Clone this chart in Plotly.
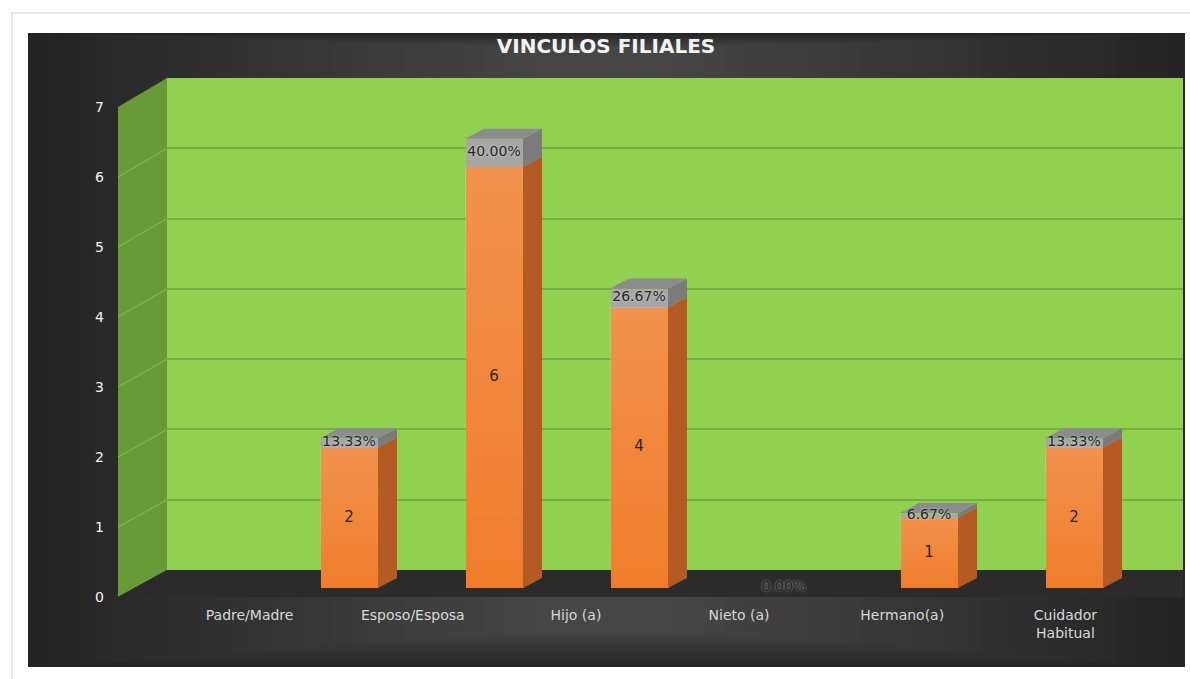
import plotly.graph_objects as go

# ---------------- data ----------------
TITLE = "VINCULOS FILIALES"
CATEGORIES = ["Padre/Madre", "Esposo/Esposa", "Hijo (a)", "Nieto (a)", "Hermano(a)", "Cuidador Habitual"]
CATEGORY_TICK_TEXT = ["Padre/Madre", "Esposo/Esposa", "Hijo (a)", "Nieto (a)", "Hermano(a)", "Cuidador<br>Habitual"]
COUNTS = [2, 6, 4, 0, 1, 2]
SHARES = [0.1333, 0.4000, 0.2667, 0.0000, 0.0667, 0.1333]
Y_TICKS = [0, 1, 2, 3, 4, 5, 6, 7]

# ---------------- geometry / style ----------------
W, H = 1190, 679
def fx(p):
    return p / W
def fy(p):
    return 1 - p / H

Y_MAX = 7
BACK = dict(x0=167, x1=1183, y0=570, y1=78)          # back wall in px
FRONT_TICKS = dict(y0=597, y1=107, x=111)            # front edge of value axis
BARS = dict(x0=276.5, x1=1146.5, y0=588, unit=70.2)  # bar plane
CATS = dict(x0=168, x1=1147, y=603)
SIDE_X_FRONT, SIDE_X_BACK = 118, 167

BAR_W = 0.4
DX = 19 / 145.0
DY = 10 / BARS["unit"]

ORANGE = "#f07d2c"
ORANGE_SIDE = "#b65a24"
GREY = "#a6a6a6"
GREY_SIDE = "#7b7b7b"
GREY_TOP = "#8c8c8c"
GREEN = "#92d050"
GREEN_SIDE = "#689a36"
GRID_GREEN = "#78ad40"

idx = list(range(len(CATEGORIES)))

fig = go.Figure()

# front faces (stacked bars)
fig.add_trace(go.Bar(x=idx, y=COUNTS, width=BAR_W, marker=dict(color=ORANGE, line=dict(width=0)),
                     xaxis="x2", yaxis="y2", hoverinfo="skip", showlegend=False))
fig.add_trace(go.Bar(x=idx, y=SHARES, width=BAR_W, marker=dict(color=GREY, line=dict(width=0)),
                     xaxis="x2", yaxis="y2", hoverinfo="skip", showlegend=False))

# soft highlight on each orange front face (lighter towards the top)
for i, c in zip(idx, COUNTS):
    if c <= 0:
        continue
    xl, xr = i - BAR_W / 2, i + BAR_W / 2
    fig.add_trace(go.Scatter(x=[xl, xr, xr, xl, xl], y=[0, 0, c, c, 0], mode="lines", fill="toself",
                             line=dict(width=0),
                             fillgradient=dict(type="vertical",
                                               colorscale=[[0, "rgba(255,255,255,0)"],
                                                           [1, "rgba(255,255,255,0.16)"]]),
                             xaxis="x2", yaxis="y2", hoverinfo="skip", showlegend=False))

# 3D side / top faces built from the same values
os_x, os_y, gs_x, gs_y, tp_x, tp_y = [], [], [], [], [], []
for i, c, s in zip(idx, COUNTS, SHARES):
    t = c + s
    if t <= 0:
        continue
    xl, xr = i - BAR_W / 2, i + BAR_W / 2
    os_x += [xr, xr + DX, xr + DX, xr, xr, None]
    os_y += [0, DY, c + DY, c, 0, None]
    gs_x += [xr, xr + DX, xr + DX, xr, xr, None]
    gs_y += [c, c + DY, t + DY, t, c, None]
    tp_x += [xl, xl + DX, xr + DX, xr, xl, None]
    tp_y += [t, t + DY, t + DY, t, t, None]

for xs, ys, col in [(os_x, os_y, ORANGE_SIDE), (gs_x, gs_y, GREY_SIDE), (tp_x, tp_y, GREY_TOP)]:
    fig.add_trace(go.Scatter(x=xs, y=ys, mode="lines", fill="toself", fillcolor=col,
                             line=dict(width=0, color=col), xaxis="x2", yaxis="y2",
                             hoverinfo="skip", showlegend=False, cliponaxis=False))

# count labels
cnt_x = [i for i, c in zip(idx, COUNTS) if c > 0]
cnt_y = [c / 2 for c in COUNTS if c > 0]
cnt_t = [str(c) for c in COUNTS if c > 0]
fig.add_trace(go.Scatter(x=cnt_x, y=cnt_y, text=cnt_t, mode="text",
                         textfont=dict(family="DejaVu Sans", size=15, color="#262626"),
                         xaxis="x2", yaxis="y2", hoverinfo="skip", showlegend=False, cliponaxis=False))
# percent labels
fig.add_trace(go.Scatter(x=idx, y=[c + s / 2 for c, s in zip(COUNTS, SHARES)],
                         text=[f"{s:.2%}" for s in SHARES], mode="text",
                         textfont=dict(family="DejaVu Sans", size=14, color="#262626",
                                       shadow="0px 0px 3px rgba(255,255,255,0.55)"),
                         xaxis="x2", yaxis="y2", hoverinfo="skip", showlegend=False, cliponaxis=False))

# dummy traces so that helper axes are drawn
fig.add_trace(go.Scatter(x=[0], y=[0], mode="markers", marker=dict(opacity=0), xaxis="x", yaxis="y",
                         hoverinfo="skip", showlegend=False))
fig.add_trace(go.Scatter(x=[0], y=[0], mode="markers", marker=dict(opacity=0), xaxis="x3", yaxis="y3",
                         hoverinfo="skip", showlegend=False))
fig.add_trace(go.Scatter(x=idx, y=[0] * len(idx), mode="markers", marker=dict(opacity=0),
                         xaxis="x4", yaxis="y4", hoverinfo="skip", showlegend=False))

# ---------------- decorative shapes ----------------
shapes = []
# page frame
shapes.append(dict(type="rect", xref="paper", yref="paper", x0=fx(12), x1=fx(1200), y0=fy(700), y1=fy(13),
                   line=dict(color="#e2e2e2", width=1.5), fillcolor="rgba(0,0,0,0)", layer="below"))
# dark chart area + soft gradient (lighter towards the middle), opaque steps
DX0, DX1, DY0, DY1 = 28, 1185, 33, 667
BASE_GREY, TOP_GREY, STEPS = 36, 70, 30
shapes.append(dict(type="rect", xref="paper", yref="paper", x0=fx(DX0), x1=fx(DX1), y0=fy(DY1), y1=fy(DY0),
                   line=dict(width=0), fillcolor=f"rgb({BASE_GREY},{BASE_GREY},{BASE_GREY})", layer="below"))
for k in range(1, STEPS + 1):
    g = round(BASE_GREY + (TOP_GREY - BASE_GREY) * k / STEPS)
    ix = k * 17
    shapes.append(dict(type="rect", xref="paper", yref="paper",
                       x0=fx(DX0 + ix), x1=fx(DX1 - ix), y0=fy(DY1 - k * 1.2), y1=fy(DY0 + k * 0.5),
                       line=dict(width=0), fillcolor=f"rgb({g},{g},{g})", layer="below"))
# back wall
shapes.append(dict(type="rect", xref="paper", yref="paper", x0=fx(BACK["x0"]), x1=fx(BACK["x1"]),
                   y0=fy(BACK["y0"]), y1=fy(BACK["y1"]), line=dict(width=0), fillcolor=GREEN, layer="below"))
# side wall
shapes.append(dict(type="path", xref="paper", yref="paper",
                   path=f"M {fx(SIDE_X_FRONT)} {fy(FRONT_TICKS['y0'])} L {fx(SIDE_X_FRONT)} {fy(FRONT_TICKS['y1'])} "
                        f"L {fx(SIDE_X_BACK)} {fy(BACK['y1'])} L {fx(SIDE_X_BACK)} {fy(BACK['y0'])} Z",
                   line=dict(width=0), fillcolor=GREEN_SIDE, layer="below"))
# side wall gridlines
def y_front(v):
    return FRONT_TICKS["y0"] + (FRONT_TICKS["y1"] - FRONT_TICKS["y0"]) * v / Y_MAX
def y_back(v):
    return BACK["y0"] + (BACK["y1"] - BACK["y0"]) * v / Y_MAX
for v in Y_TICKS[1:-1]:
    shapes.append(dict(type="line", xref="paper", yref="paper", x0=fx(SIDE_X_FRONT), x1=fx(SIDE_X_BACK),
                       y0=fy(y_front(v)), y1=fy(y_back(v)), line=dict(color="#86b85a", width=1), layer="below"))
# floor
shapes.append(dict(type="path", xref="paper", yref="paper",
                   path=f"M {fx(SIDE_X_FRONT)} {fy(FRONT_TICKS['y0'])} L {fx(SIDE_X_BACK)} {fy(BACK['y0'])} "
                        f"L {fx(BACK['x1'])} {fy(BACK['y0'])} L {fx(BACK['x1'])} {fy(FRONT_TICKS['y0'])} Z",
                   line=dict(width=0), fillcolor="#2b2b2b", layer="below"))

axis_off = dict(visible=False, showgrid=False, zeroline=False, fixedrange=True, automargin=False)

fig.update_layout(
    width=W, height=H,
    margin=dict(l=0, r=0, t=0, b=0, pad=0),
    paper_bgcolor="white",
    plot_bgcolor="rgba(0,0,0,0)",
    barmode="stack",
    bargap=0,
    showlegend=False,
    shapes=shapes,
    title=dict(text=f"<b>{TITLE}</b>", x=fx(606), xanchor="center", y=fy(46), yanchor="middle",
               xref="paper", yref="paper", automargin=False,
               font=dict(family="DejaVu Sans", size=20, color="#f2f2f2")),
    # back wall (gridlines)
    xaxis=dict(domain=[fx(BACK["x0"]), fx(BACK["x1"])], range=[0, 1], **axis_off),
    yaxis=dict(domain=[fy(BACK["y0"]), fy(BACK["y1"])], range=[0, Y_MAX], tickvals=Y_TICKS,
               showgrid=True, gridcolor=GRID_GREEN, gridwidth=1.5, zeroline=False,
               showticklabels=False, ticks="", showline=False, fixedrange=True, automargin=False),
    # bars
    xaxis2=dict(domain=[fx(BARS["x0"]), fx(BARS["x1"])], range=[-0.5, len(idx) - 0.5], anchor="y2", **axis_off),
    yaxis2=dict(domain=[fy(BARS["y0"]), fy(BARS["y0"] - Y_MAX * BARS["unit"])], range=[0, Y_MAX],
                anchor="x2", **axis_off),
    # value tick labels on the front edge
    xaxis3=dict(domain=[fx(FRONT_TICKS["x"] - 6), fx(FRONT_TICKS["x"])], range=[0, 1], anchor="y3", **axis_off),
    yaxis3=dict(domain=[fy(FRONT_TICKS["y0"]), fy(FRONT_TICKS["y1"])], range=[0, Y_MAX], anchor="x3",
                tickvals=Y_TICKS, ticktext=[str(v) for v in Y_TICKS], showgrid=False, zeroline=False,
                showline=False, ticks="", side="left", automargin=False,
                tickfont=dict(family="DejaVu Sans", size=14, color="#f2f2f2"), fixedrange=True),
    # category labels along the floor front edge
    xaxis4=dict(domain=[fx(CATS["x0"]), fx(CATS["x1"])], range=[-0.5, len(idx) - 0.5], anchor="y4",
                tickvals=idx, ticktext=CATEGORY_TICK_TEXT, showgrid=False, zeroline=False, showline=False,
                ticks="", side="bottom", automargin=False,
                tickfont=dict(family="DejaVu Sans", size=14, color="#d9d9d9"), fixedrange=True),
    yaxis4=dict(domain=[fy(CATS["y"] + 2), fy(CATS["y"] - 2)], range=[0, 1], anchor="x4", **axis_off),
)

fig.write_html("out.html")
